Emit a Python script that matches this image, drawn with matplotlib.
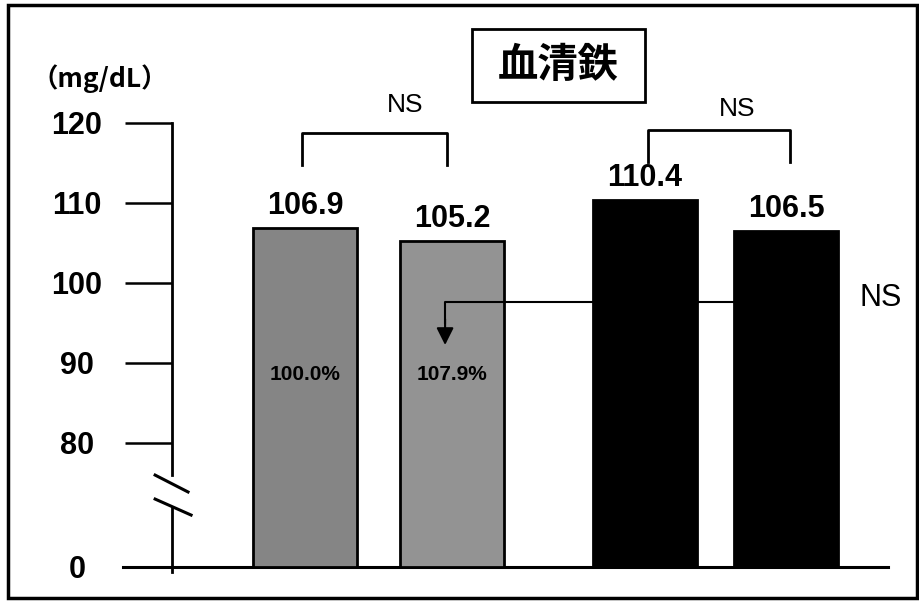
import numpy as np
import matplotlib.pyplot as plt
from matplotlib.patches import Rectangle

# data
values = [106.9, 105.2, 110.4, 106.5]
pct_labels = ["100.0%", "107.9%"]
y_ticks = [0, 80, 90, 100, 110, 120]
y_ticklabels = ["0", "80", "90", "100", "110", "120"]
title = "血清鉄"
unit = "（mg/dL）"

# layout (bar slot units)
x_pos = [0.0, 1.0, 2.31, 3.27]
bar_w = 0.707
bar_colors = ["#858585", "#939393", "black", "black"]

NUM = ["Liberation Sans", "DejaVu Sans"]
CJK = ["Noto Sans CJK JP", "DejaVu Sans"]


# broken axis: 80..120 linear, 0..80 squeezed
def fwd(y):
    y = np.asarray(y, float)
    return np.where(y >= 80, y, 64.5 + y * 15.5 / 80)


def inv(f):
    f = np.asarray(f, float)
    return np.where(f >= 80, f, (f - 64.5) * 80 / 15.5)


fig = plt.figure(figsize=(9.19, 6.02), dpi=100)
ax = fig.add_axes([123 / 919, 1 - 567 / 602, 765 / 919, 444 / 602])
ax.set_yscale("function", functions=(fwd, inv))
ax.set_ylim(0, 120)
ax.set_xlim(-1.241, 3.963)

ax.bar(x_pos, values, width=bar_w, color=bar_colors,
       edgecolor="black", linewidth=2, zorder=3)

for x, v in zip(x_pos, values):
    ax.annotate(f"{v:.1f}", (x, v), xytext=(0, 5), textcoords="offset points",
                ha="center", va="bottom", fontsize=22, fontweight="bold",
                family=NUM, annotation_clip=False)

for x, s in zip(x_pos[:2], pct_labels):
    ax.text(x, 88.5, s, ha="center", va="center", fontsize=15,
            fontweight="bold", family=NUM, zorder=5)

# significance brackets
ax.plot([-0.024, -0.024, 0.963, 0.963], [114.75, 118.75, 118.75, 114.75],
        color="black", lw=2, clip_on=False)
ax.text(0.677, 122.3, "NS", ha="center", va="center", fontsize=19, family=NUM)
ax.plot([2.33, 2.33, 3.296, 3.296], [115.1, 119.1, 119.1, 115.1],
        color="black", lw=2, clip_on=False)
ax.text(2.94, 121.8, "NS", ha="center", va="center", fontsize=19, family=NUM)

# arrow between groups
ax.plot([2.915, 0.95, 0.95], [97.6, 97.6, 95.0], color="black", lw=1.5, zorder=4)
ax.annotate("", xy=(0.95, 92.25), xytext=(0.95, 95.5),
            arrowprops=dict(arrowstyle="-|>", color="black", lw=1.5,
                            mutation_scale=26, shrinkA=0, shrinkB=0),
            zorder=4)
ax.text(3.91, 98.1, "NS", ha="center", va="center", fontsize=22, family=NUM)

# axes styling
for s in ["top", "right", "left"]:
    ax.spines[s].set_visible(False)
ax.spines["bottom"].set_linewidth(2.2)
ax.spines["left"].set_position(("axes", 49 / 765))
ax.set_xticks([])
ax.set_yticks(y_ticks)
ax.set_yticklabels(y_ticklabels)
ax.tick_params(axis="y", direction="out", length=34, width=1.8, pad=34.5,
               labelsize=22)
for lbl in ax.get_yticklabels():
    lbl.set_ha("center")
    lbl.set_fontweight("bold")
    lbl.set_family(NUM)

# y axis line with break marks
xa = 49 / 765
ax.plot([xa, xa], [1.0, 0.207], color="black", lw=2, transform=ax.transAxes, clip_on=False)
ax.plot([xa, xa], [0.133, -0.011], color="black", lw=2, transform=ax.transAxes, clip_on=False)
ax.plot([0.042, 0.085], [0.207, 0.169], color="black", lw=2.2, transform=ax.transAxes, clip_on=False)
ax.plot([0.042, 0.089], [0.153, 0.117], color="black", lw=2.2, transform=ax.transAxes, clip_on=False)

ax.text(-1.398, 125.6, unit, ha="center", va="center", fontsize=19,
        fontweight="bold", family=CJK)

# title box
fig.add_artist(Rectangle((472 / 919, 1 - 102 / 602), 173 / 919, 73 / 602,
                         transform=fig.transFigure, fill=False, lw=2, color="black"))
fig.text(558.5 / 919, 1 - 65.5 / 602, title, ha="center", va="center",
         fontsize=29, fontweight="bold", family=CJK)

# outer frame
fig.add_artist(Rectangle((8 / 919, 1 - 598 / 602), 909 / 919, 593 / 602,
                         transform=fig.transFigure, fill=False, lw=2.5, color="black"))

fig.savefig("out.png", dpi=100)
